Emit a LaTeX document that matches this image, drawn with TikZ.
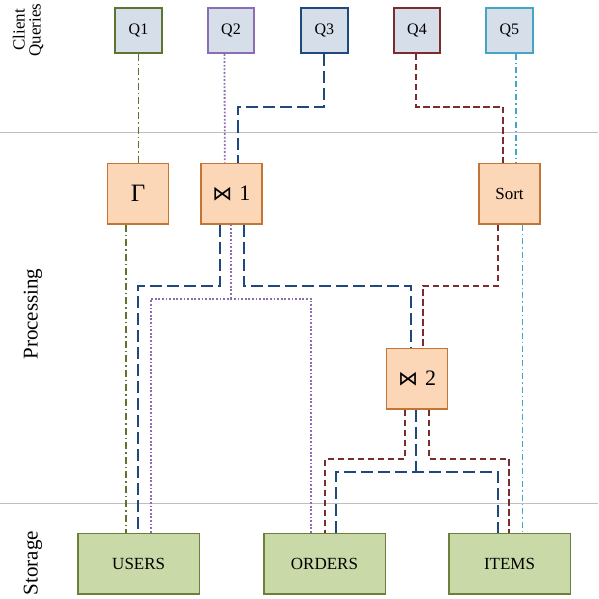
\documentclass[tikz,border=0pt]{standalone}
\usepackage{fontspec}
\setmainfont{Liberation Serif}
\newfontfamily\opfont{DejaVu Sans}
\usetikzlibrary{calc}

\definecolor{qfill}{RGB}{214,222,234}
\definecolor{procfill}{RGB}{251,214,183}
\definecolor{procedge}{RGB}{196,117,52}
\definecolor{storefill}{RGB}{201,217,167}
\definecolor{storeedge}{RGB}{108,128,60}
\definecolor{lanegray}{RGB}{190,190,190}
\definecolor{cone}{RGB}{94,117,48}
\definecolor{ctwo}{RGB}{140,108,178}
\definecolor{cthree}{RGB}{31,73,125}
\definecolor{cfour}{RGB}{123,44,44}
\definecolor{cfive}{RGB}{68,166,194}

\tikzset{
  query/.style={draw, fill=qfill, line width=2pt, minimum width=46.5pt,
    minimum height=45pt, inner sep=0pt, font=\fontsize{16}{16}\selectfont},
  proc/.style={draw=procedge, fill=procfill, line width=1.5pt,
    minimum width=61pt, minimum height=60.5pt, inner sep=0pt},
  store/.style={draw=storeedge, fill=storefill, line width=1.5pt,
    minimum width=121.5pt, minimum height=60.5pt, inner sep=0pt,
    font=\fontsize{17}{17}\selectfont},
  lane/.style={draw=lanegray, line width=1pt},
  lanelabel/.style={rotate=90, align=center, font=\fontsize{17}{16}\selectfont},
  biglabel/.style={rotate=90, font=\fontsize{21}{21}\selectfont},
  qonel/.style={draw=cone, line width=1.8pt, dash pattern=on 7pt off 3pt on 1.5pt off 3pt},
  qtwol/.style={draw=ctwo, line width=1.8pt, dash pattern=on 1.8pt off 1.8pt},
  qthreel/.style={draw=cthree, line width=2pt, dash pattern=on 12pt off 5pt},
  qfourl/.style={draw=cfour, line width=2pt, dash pattern=on 6.5pt off 3.5pt},
  qfivel/.style={draw=cfive, line width=1.8pt, dash pattern=on 6pt off 3pt on 1.5pt off 3pt},
}

\begin{document}
\begin{tikzpicture}[x=1pt,y=-1pt]
\useasboundingbox (0,0) rectangle (598,599);

% lane separators
\draw[lane] (0,132.7) -- (598,132.7);
\draw[lane] (0,503.3) -- (598,503.3);

% lane titles
\node[lanelabel] (lclient) at (28,30) {Client\\Queries};
\node[biglabel] (lproc) at (33,314) {Processing};
\node[biglabel] (lstore) at (33,563) {Storage};

% client queries
\node[query, draw=cone]   (Q1) at (138.5,30.5) {Q1};
\node[query, draw=ctwo]   (Q2) at (231,30.5) {Q2};
\node[query, draw=cthree] (Q3) at (324.3,30.5) {Q3};
\node[query, draw=cfour]  (Q4) at (417,30.5) {Q4};
\node[query, draw=cfive]  (Q5) at (509.3,30.5) {Q5};

% operators
\node[proc, font=\fontsize{25}{25}\selectfont] (G) at (138,193.5) {Γ};
\node[proc, font=\fontsize{22}{22}\selectfont] (J1) at (231.3,193.5) {{\opfont\fontsize{20}{20}\selectfont ⋈}\hspace{7pt}1};
\node[proc, font=\fontsize{17}{17}\selectfont] (S) at (509.5,193.5) {Sort};
\node[proc, font=\fontsize{22}{22}\selectfont] (J2) at (417,378.7) {{\opfont\fontsize{20}{20}\selectfont ⋈}\hspace{7pt}2};

% tables
\node[store] (U) at (138.7,563.5) {USERS};
\node[store] (O) at (324.5,563.5) {ORDERS};
\node[store] (I) at (509.5,563.5) {ITEMS};

% bend rows
\coordinate (rq) at (0,107);
\coordinate (rb) at (0,285.7);
\coordinate (rp) at (0,298.7);
\coordinate (rr) at (0,459);
\coordinate (rbl) at (0,472.3);

% Q1: aggregation over USERS
\draw[qonel] (Q1.south) -- (Q1.south |- G.north);
\draw[qonel] ([xshift=-11.8pt]G.south) -- ([xshift=-11.8pt]G.south |- U.north);

% Q2: join 1, dotted
\draw[qtwol] ([xshift=-6.5pt]Q2.south) -- ([xshift=-6.5pt]J1.north);
\draw[qtwol] (J1.south) -- (J1.south |- rp);
\draw[qtwol] ([xshift=12.3pt]U.north) |- (J1.south |- rp) -| ([xshift=-13.2pt]O.north);

% Q3: join 1 then join 2
\draw[qthreel] (Q3.south) -- (Q3.south |- rq) -| ([xshift=6.5pt]J1.north);
\draw[qthreel] ([xshift=-11.6pt]J1.south) -- ([xshift=-11.6pt]J1.south |- rb) -| ([xshift=-0.5pt]U.north);
\draw[qthreel] ([xshift=12.7pt]J1.south) -- ([xshift=12.7pt]J1.south |- rb) -| ([xshift=-6pt]J2.north);
\draw[qthreel] ([xshift=-1pt]J2.south) -- ([xshift=-1pt]J2.south |- rbl);
\draw[qthreel] ([xshift=11.5pt]O.north) |- ([xshift=-1pt]J2.south |- rbl) -| ([xshift=-11.2pt]I.north);

% Q4: sort over join 2
\draw[qfourl] ([xshift=-1pt]Q4.south) -- ([xshift=-1pt]Q4.south |- rq) -| ([xshift=-6.5pt]S.north);
\draw[qfourl] ([xshift=-11.5pt]S.south) -- ([xshift=-11.5pt]S.south |- rb) -| ([xshift=5.7pt]J2.north);
\draw[qfourl] ([xshift=-12.3pt]J2.south) -- ([xshift=-12.3pt]J2.south |- rr) -| (O.north);
\draw[qfourl] ([xshift=12pt]J2.south) -- ([xshift=12pt]J2.south |- rr) -| ([xshift=-0.2pt]I.north);

% Q5: sort over ITEMS
\draw[qfivel] ([xshift=6.4pt]Q5.south) -- ([xshift=6.2pt]S.north);
\draw[qfivel] ([xshift=13pt]S.south) -- ([xshift=13pt]S.south |- I.north);
\end{tikzpicture}
\end{document}
